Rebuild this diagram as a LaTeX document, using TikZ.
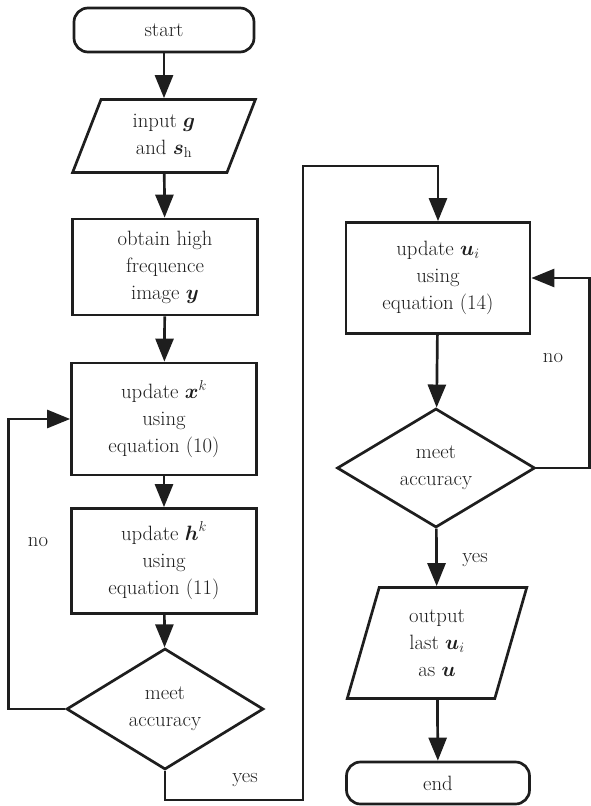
\documentclass[tikz,border=0pt]{standalone}
\usepackage{amsmath,amssymb}
\usepackage{xcolor}
\definecolor{ink}{RGB}{30,30,30}
\usepackage{tikz}
\usetikzlibrary{positioning,arrows.meta,shapes.geometric,shapes.misc}
\newcommand{\vb}[1]{\ensuremath{\boldsymbol{#1}}}

\begin{document}
\begin{tikzpicture}[x=1pt, y=-1pt, font=\fontsize{20.7}{27}\selectfont,
  >={Triangle[length=23pt,width=18pt]}, line width=2.7pt, draw=ink, text=ink,
  term/.style={draw, rounded corners=14pt, minimum width=180pt, minimum height=44pt, inner sep=0pt},
  io/.style 2 args={draw, trapezium, trapezium left angle=#1, trapezium right angle=#2,
    trapezium stretches=true, align=center, inner sep=0pt},
  proc/.style={draw, rectangle, minimum width=185pt, align=center, inner sep=0pt},
  dec/.style={draw, diamond, minimum width=197pt, minimum height=121pt, align=center, inner sep=0pt},
  lbl/.style={inner sep=0pt}]
\useasboundingbox (0,0) rectangle (590,806);
% left column
\node[term] (start) at (164,30)  {start};
\node[io={72}{108}, minimum width=183pt, minimum height=73pt] (in) at (164,136) {input \vb{g}\\ and \vb{s}$_{\mathrm{h}}$};
\node[proc, minimum height=96pt]  (obt) at (165,267) {obtain high\\ frequence\\ image \vb{y}};
\node[proc, minimum height=112pt] (upx) at (164,419) {update $\vb{x}^{k}$\\ using\\ equation (10)};
\node[proc, minimum height=105pt] (uph) at (164,561) {update $\vb{h}^{k}$\\ using\\ equation (11)};
\node[dec] (dec1) at (165,709) {meet\\ accuracy};
% right column
\node[proc, minimum width=184pt, minimum height=111pt] (upu) at (438,278) {update $\vb{u}_{i}$\\ using\\ equation (14)};
\node[dec, minimum width=198pt, minimum height=119pt] (dec2) at (436,468) {meet\\ accuracy};
\node[io={77}{103}, minimum width=180pt, minimum height=111pt] (out) at (437,643) {output\\ last $\vb{u}_{i}$\\ as \vb{u}};
\node[term, minimum width=183pt, minimum height=42pt] (end) at (438,783) {end};
% labels
\node[lbl] (no1)  at (38,542)  {no};
\node[lbl] (yes1) at (245,780) {yes};
\node[lbl] (no2)  at (553,358) {no};
\node[lbl] (yes2) at (475,560) {yes};
\coordinate (c1) at (303,800);
\coordinate (c2) at (303,166);
% connectors
\draw[->] (start) -- (in);
\draw[->] (in) -- (obt);
\draw[->] (obt) -- (upx);
\draw[->] (upx) -- (uph);
\draw[->] (uph) -- (dec1);
\draw[->] (dec1.west) -- ++(-57,0) |- (upx.west);
\draw[->] (dec1.south) |- (c1) -- (c2) -| (upu.north);
\draw[->] (upu) -- (dec2);
\draw[->] (dec2.east) -- ++(53,0) |- (upu.east);
\draw[->] (dec2) -- (out);
\draw[->] (out) -- (end);
\end{tikzpicture}
\end{document}
